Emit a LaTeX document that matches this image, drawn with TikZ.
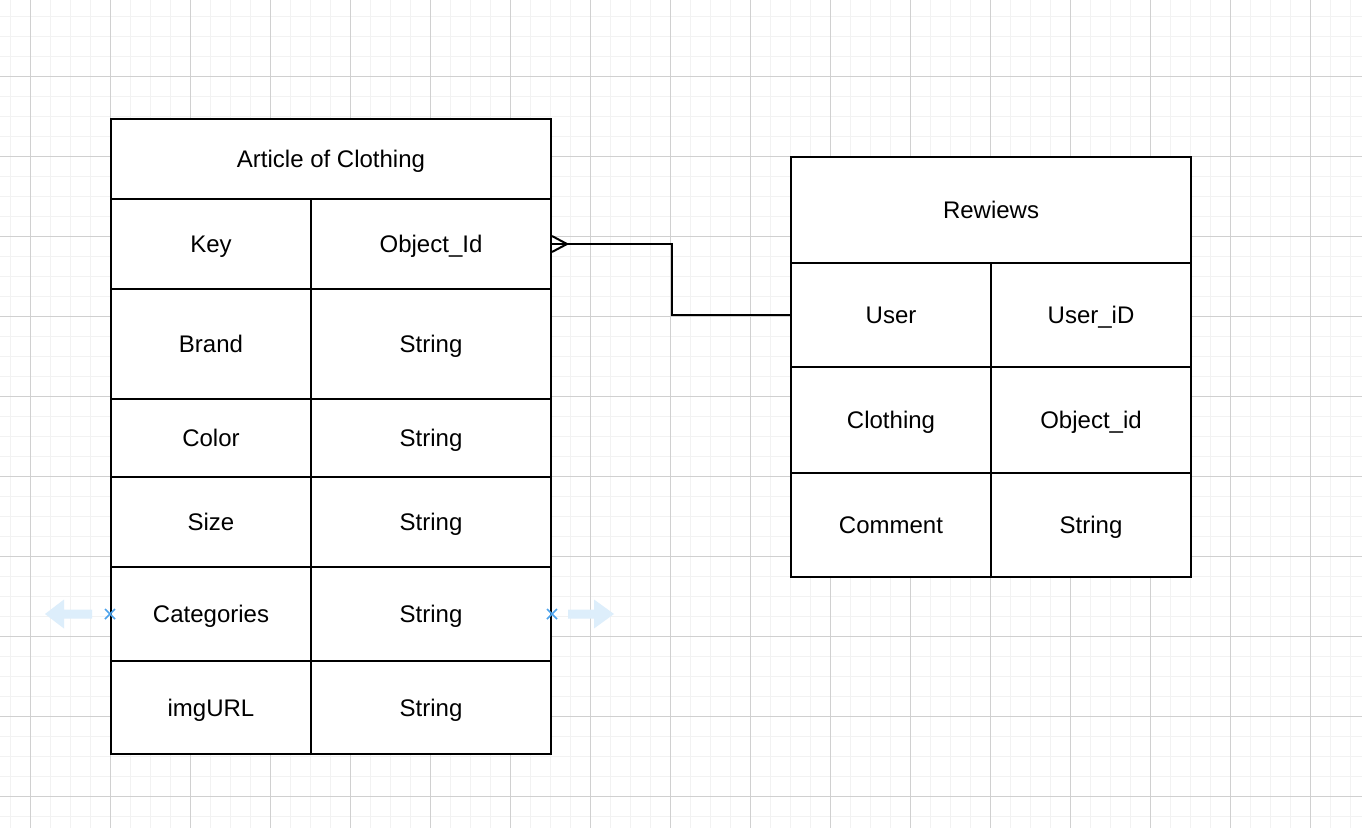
\documentclass[tikz,border=0pt]{standalone}
\usepackage{fontspec}
\setmainfont{Liberation Sans}
\usetikzlibrary{calc,positioning}

\definecolor{gridminor}{HTML}{F2F2F2}
\definecolor{gridmajor}{HTML}{D0D0D0}
\definecolor{hoverfill}{HTML}{DDEEFB}
\definecolor{hovermark}{HTML}{4DA3EC}

\begin{document}
\begin{tikzpicture}[
    x=1pt, y=-1pt,
    minor line/.style={gridminor, line width=1pt},
    major line/.style={gridmajor, line width=1pt},
    cell/.style={draw=black, fill=white, line width=2pt, inner sep=0pt,
        minimum width=200, text height=17.2, text depth=0, text centered,
        font=\fontsize{24}{28}\selectfont},
    head/.style={cell, minimum width=#1},
    wide cell/.style={cell, minimum width=240},
    link/.style={draw=black, line width=2pt},
    hover arrow/.style={fill=hoverfill},
    hover mark/.style={draw=hovermark, line width=1.6pt}
    ]

    \useasboundingbox (0,0) rectangle (1362,828);
    \fill[white] (0,0) rectangle (1362,828);

    % grid
    \foreach \gx in {10,30,...,1350}
        \draw[minor line] (\gx,0) -- (\gx,828);
    \foreach \gy in {16,36,...,816}
        \draw[minor line] (0,\gy) -- (1362,\gy);
    \foreach \gx in {30,110,...,1310}
        \draw[major line] (\gx,0) -- (\gx,828);
    \foreach \gy in {76,156,...,796}
        \draw[major line] (0,\gy) -- (1362,\gy);

    % Article of Clothing
    \node[head=440, minimum height=80] (clothing) at (331,159) {Article of Clothing};
    \node[cell, minimum height=90]  (key)       at (211,244)   {Key};
    \node[wide cell, minimum height=90]  (keytype)   at (431,244)   {Object\_Id};
    \node[cell, minimum height=110] (brand)     at (211,344)   {Brand};
    \node[wide cell, minimum height=110] (brandtype) at (431,344)   {String};
    \node[cell, minimum height=78]  (color)     at (211,438)   {Color};
    \node[wide cell, minimum height=78]  (colortype) at (431,438)   {String};
    \node[cell, minimum height=90]  (size)      at (211,522)   {Size};
    \node[wide cell, minimum height=90]  (sizetype)  at (431,522)   {String};
    \node[cell, minimum height=94]  (cat)       at (211,614)   {Categories};
    \node[wide cell, minimum height=94]  (cattype)   at (431,614)   {String};
    \node[cell, minimum height=93]  (img)       at (211,707.5) {imgURL};
    \node[wide cell, minimum height=93]  (imgtype)   at (431,707.5) {String};

    % Rewiews
    \node[head=400, minimum height=106] (reviews) at (991,210) {Rewiews};
    \node[cell, minimum height=104] (user)        at (891,315)  {User};
    \node[cell, minimum height=104] (usertype)    at (1091,315) {User\_iD};
    \node[cell, minimum height=106] (cloth)       at (891,420)  {Clothing};
    \node[cell, minimum height=106] (clothtype)   at (1091,420) {Object\_id};
    \node[cell, minimum height=104] (comment)     at (891,525)  {Comment};
    \node[cell, minimum height=104] (commenttype) at (1091,525) {String};

    % relation
    \draw[link] (keytype.east) -- ++(120,0) |- (user.west);
    \draw[link] ([yshift=8]keytype.east) -- ([xshift=15]keytype.east)
        -- ([yshift=-8]keytype.east);

    % hover handles
    \begin{scope}[shift={(cat.west)}]
        \fill[hover arrow] (-18,-4.5) -- (-46,-4.5) -- (-46,-14.5) -- (-65,0)
            -- (-46,14.5) -- (-46,4.5) -- (-18,4.5) -- cycle;
        \draw[hover mark] (-5,-5) -- (5,5) (-5,5) -- (5,-5);
    \end{scope}
    \begin{scope}[shift={(cattype.east)}]
        \fill[hover arrow] (16,-4.5) -- (42,-4.5) -- (42,-14.5) -- (62,0)
            -- (42,14.5) -- (42,4.5) -- (16,4.5) -- cycle;
        \draw[hover mark] (-5,-5) -- (5,5) (-5,5) -- (5,-5);
    \end{scope}

\end{tikzpicture}
\end{document}
